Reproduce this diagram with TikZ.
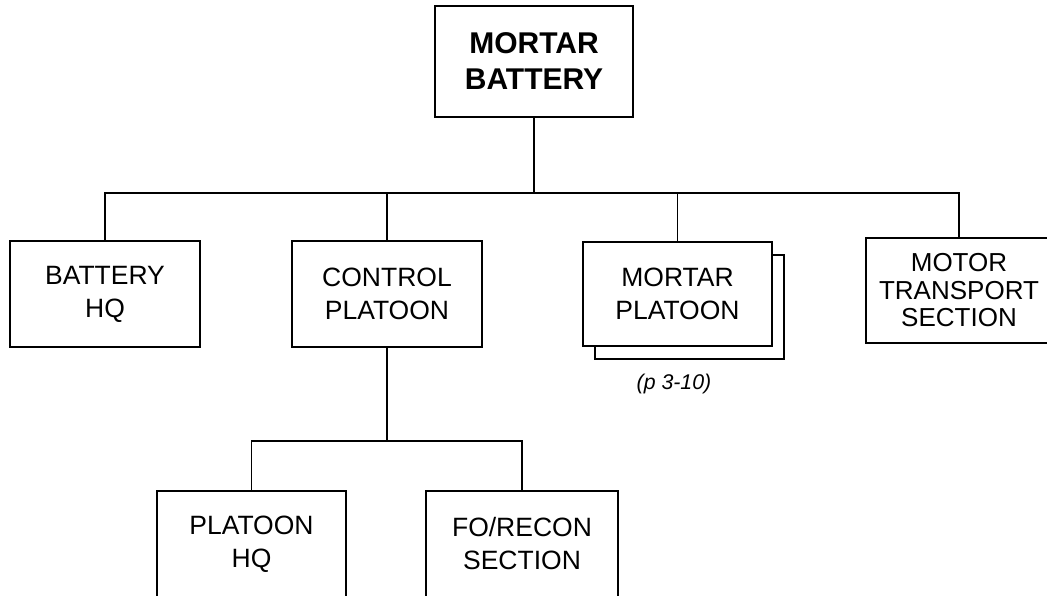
\documentclass[tikz,border=0pt]{standalone}
\usepackage{fontspec}
\setmainfont{Liberation Sans}
\usepackage{xcolor}
\usetikzlibrary{shadows}

\tikzset{
    unit/.style={draw, line width=1.6pt, fill=white, align=center,
        minimum width=190pt, minimum height=106pt, inner sep=0pt,
        font=\fontsize{26.5}{33}\selectfont},
    link/.style={line width=1.6pt}
}

\begin{document}
\begin{tikzpicture}[x=1pt, y=1pt]
\useasboundingbox (0,0) rectangle (1047,-596);
\clip (0,0) rectangle (1047,-596);

% === Mando ===
\node[unit, minimum width=198pt, minimum height=111pt,
      font=\fontsize{30}{36}\selectfont\bfseries] (bat) at (534,-61.5) {MORTAR\\BATTERY};

% === Primer escalon ===
\node[unit] (bhq) at (105,-294) {BATTERY\\HQ};
\node[unit] (ctl) at (387,-294) {CONTROL\\PLATOON};
\node[unit, minimum width=189pt, minimum height=104pt,
      copy shadow={shadow xshift=12pt, shadow yshift=-13pt}] (mpl) at (677.5,-294) {MORTAR\\PLATOON};
\node[unit, minimum width=186pt, minimum height=105pt,
      font=\fontsize{26}{27.5}\selectfont] (mts) at (959,-290.5) {MOTOR\\TRANSPORT\\SECTION};
\node[font=\fontsize{21.3}{24}\selectfont\itshape] (ref) at (674,-384) {(p 3-10)};

% === Segundo escalon ===
\node[unit, minimum width=189pt] (phq) at (251.5,-544) {PLATOON\\HQ};
\node[unit, minimum width=192pt] (fo) at (522,-544) {FO/RECON\\SECTION};

% Barras
\coordinate (bus) at (0,-193);
\coordinate (lowbus) at (0,-441);

% Conectores
\draw[link] (bat.south) -- (bat.south |- bus);
\draw[link] (bhq.north) -- (bhq.north |- bus) -- (mts.north |- bus) -- (mts.north);
\foreach \n in {ctl, mpl} {
    \draw[link] (\n.north) -- (\n.north |- bus);
}
\draw[link] (ctl.south) -- (ctl.south |- lowbus);
\draw[link] (phq.north) -- (phq.north |- lowbus) -- (fo.north |- lowbus) -- (fo.north);

\end{tikzpicture}
\end{document}
